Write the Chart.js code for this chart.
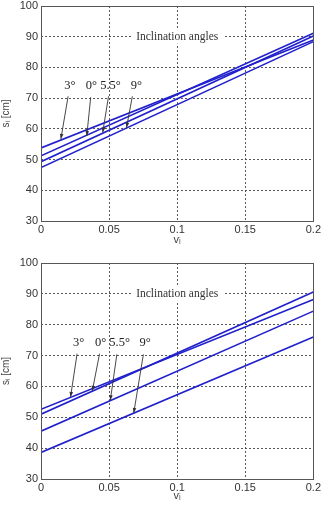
<!DOCTYPE html>
<html>
<head>
<meta charset="utf-8">
<script src="https://cdn.jsdelivr.net/npm/chart.js@4.4.0/dist/chart.umd.min.js"></script>
<style>
  html, body { margin: 0; padding: 0; background: #fff; }
  body { width: 323px; height: 505px; position: relative; overflow: hidden; }
  .caja { position: absolute; left: 0; width: 323px; }
  #cajaArriba { top: 0; height: 250px; }
  #cajaAbajo { top: 250px; height: 255px; }
</style>
</head>
<body>
<div class="caja" id="cajaArriba"><canvas id="graficoArriba"></canvas></div>
<div class="caja" id="cajaAbajo"><canvas id="graficoAbajo"></canvas></div>
<script>
/* Datos: cada recta va de v=0 a v=0.2 */
var V_EXTREMOS = [0, 0.2];
var ANGULOS = ['3°', '0°', '5.5°', '9°'];

/* gráfico superior: s al inicio y al final de cada recta */
var ARRIBA_S = [
  [53.8, 88.9],  /* 3° */
  [51.2, 91.1],  /* 0° */
  [49.3, 90.2],  /* 5.5° */
  [47.4, 88.4]   /* 9° */
];

/* gráfico inferior */
var ABAJO_S = [
  [52.6, 88.2],  /* 3° */
  [51.0, 90.6],  /* 0° */
  [45.5, 84.4],  /* 5.5° */
  [38.6, 76.0]   /* 9° */
];

var Y_MIN = 30, Y_MAX = 100, Y_PASO = 10;
var X_TICKS = ['0', '0.05', '0.1', '0.15', '0.2'];

/* Anotaciones (en unidades de datos): etiqueta y flecha hacia cada recta */
var ARRIBA_ETIQ = { x: [0.0212, 0.037, 0.051, 0.070], y: 74 };
var ARRIBA_FLECHAS = {
  desdeX: [0.0199, 0.0365, 0.0496, 0.0671], desdeY: [70.6, 70.3, 70.6, 70.6],
  hastaX: [0.0146, 0.0336, 0.0453, 0.0628], hastaY: [56.7, 57.7, 58.8, 60.4]
};
var ABAJO_ETIQ = { x: [0.0277, 0.0438, 0.0577, 0.0764], y: 74.1 };
var ABAJO_FLECHAS = {
  desdeX: [0.0265, 0.0430, 0.0557, 0.0752], desdeY: [70.6, 70.6, 70.4, 70.4],
  hastaX: [0.0217, 0.0377, 0.0509, 0.0681], hastaY: [56.6, 58.6, 55.5, 51.4]
};
var TITULO = 'Inclination angles';
var TITULO_POS = { x: 0.1, y: 90 };

var AZUL = '#2020cc';

function recta(s) {
  return [{ x: V_EXTREMOS[0], y: s[0] }, { x: V_EXTREMOS[1], y: s[1] }];
}

/* Recuadro completo alrededor del área del gráfico */
var recuadro = {
  id: 'recuadro',
  afterDraw: function (chart) {
    var a = chart.chartArea, ctx = chart.ctx;
    ctx.save();
    ctx.strokeStyle = '#555';
    ctx.lineWidth = 1;
    ctx.strokeRect(Math.round(a.left) + 0.5, Math.round(a.top) + 0.5,
      Math.round(a.right - a.left), Math.round(a.bottom - a.top));
    ctx.restore();
  }
};

/* Texto y flechas de las anotaciones */
var anotaciones = {
  id: 'anotaciones',
  afterDatasetsDraw: function (chart) {
    var cfg = chart.options.plugins.anotaciones;
    var sx = chart.scales.x, sy = chart.scales.y, ctx = chart.ctx;
    ctx.save();

    /* título con fondo blanco sobre la grilla */
    ctx.font = '11.5px "Liberation Serif", "DejaVu Serif", serif';
    ctx.textAlign = 'center';
    ctx.textBaseline = 'middle';
    var tx = sx.getPixelForValue(TITULO_POS.x), ty = sy.getPixelForValue(TITULO_POS.y);
    var ancho = ctx.measureText(TITULO).width;
    ctx.fillStyle = '#fff';
    ctx.fillRect(tx - ancho / 2 - 5, ty - 7, ancho + 10, 14);
    ctx.fillStyle = '#333';
    ctx.fillText(TITULO, tx, ty);

    /* etiquetas de ángulos */
    ctx.font = '12.5px "Liberation Serif", "DejaVu Serif", serif';
    ctx.fillStyle = '#222';
    for (var i = 0; i < ANGULOS.length; i++) {
      ctx.fillText(ANGULOS[i], sx.getPixelForValue(cfg.etiq.x[i]), sy.getPixelForValue(cfg.etiq.y));
    }

    /* flechas */
    var f = cfg.flechas;
    ctx.strokeStyle = '#333';
    ctx.fillStyle = '#333';
    ctx.lineWidth = 0.9;
    for (var j = 0; j < f.desdeX.length; j++) {
      var x1 = sx.getPixelForValue(f.desdeX[j]), y1 = sy.getPixelForValue(f.desdeY[j]);
      var x2 = sx.getPixelForValue(f.hastaX[j]), y2 = sy.getPixelForValue(f.hastaY[j]);
      ctx.beginPath();
      ctx.moveTo(x1, y1);
      ctx.lineTo(x2, y2);
      ctx.stroke();
      var ang = Math.atan2(y2 - y1, x2 - x1), L = 5, W = 1.8;
      ctx.beginPath();
      ctx.moveTo(x2, y2);
      ctx.lineTo(x2 - L * Math.cos(ang) + W * Math.sin(ang), y2 - L * Math.sin(ang) - W * Math.cos(ang));
      ctx.lineTo(x2 - L * Math.cos(ang) - W * Math.sin(ang), y2 - L * Math.sin(ang) + W * Math.cos(ang));
      ctx.closePath();
      ctx.fill();
    }
    ctx.restore();
  }
};

function crearGrafico(id, series, etiq, flechas, arribaPad, altoX, tituloPadX) {
  var datasets = [];
  for (var i = 0; i < series.length; i++) {
    datasets.push({
      label: ANGULOS[i],
      data: recta(series[i]),
      showLine: true,
      borderColor: AZUL,
      backgroundColor: AZUL,
      borderWidth: 1.6,
      pointRadius: 0,
      fill: false
    });
  }
  var fuenteEje = { family: '"Liberation Sans", Arial, sans-serif', size: 11 };
  var grilla = {
    color: '#444',
    lineWidth: 0.9,
    drawTicks: false
  };
  return new Chart(document.getElementById(id), {
    type: 'scatter',
    data: { datasets: datasets },
    options: {
      responsive: true,
      maintainAspectRatio: false,
      animation: false,
      layout: { padding: { top: arribaPad, right: 8, left: 0, bottom: 0 } },
      plugins: {
        legend: { display: false },
        tooltip: { enabled: false },
        anotaciones: { etiq: etiq, flechas: flechas }
      },
      scales: {
        x: {
          type: 'linear',
          min: 0, max: 0.2,
          afterBuildTicks: function (s) {
            s.ticks = X_TICKS.map(function (t) { return { value: parseFloat(t) }; });
          },
          ticks: {
            color: '#333', font: fuenteEje, padding: 2, maxRotation: 0,
            callback: function (v, i) { return X_TICKS[i]; }
          },
          grid: grilla,
          border: { display: false, dash: [2, 2] },
          title: {
            display: true, text: 'vᵢ', color: '#444',
            font: { family: '"Liberation Sans", Arial, sans-serif', size: 11 },
            padding: { top: 0, bottom: tituloPadX }
          },
          afterFit: function (s) { s.height = altoX; }
        },
        y: {
          min: Y_MIN, max: Y_MAX,
          ticks: { stepSize: Y_PASO, color: '#333', font: fuenteEje, padding: 3 },
          grid: grilla,
          border: { display: false, dash: [2, 2] },
          title: {
            display: true, text: 'sᵢ [cm]', color: '#444',
            font: { family: '"Liberation Sans", Arial, sans-serif', size: 10 },
            padding: { top: 0, bottom: 5 }
          },
          afterFit: function (s) {
            s.width = 41;
            s.paddingTop = 0;
            s.paddingBottom = 0;
          }
        }
      }
    },
    plugins: [anotaciones, recuadro]
  });
}

var g1 = crearGrafico('graficoArriba', ARRIBA_S, ARRIBA_ETIQ, ARRIBA_FLECHAS, 6, 29, 3);
var g2 = crearGrafico('graficoAbajo', ABAJO_S, ABAJO_ETIQ, ABAJO_FLECHAS, 13, 26, 2);
</script>
</body>
</html>
